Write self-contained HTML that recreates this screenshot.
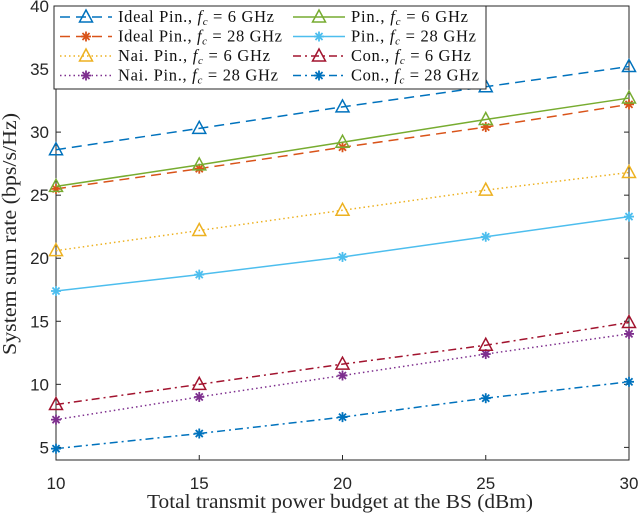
<!DOCTYPE html>
<html><head><meta charset="utf-8"><style>
body{margin:0;background:#fff}
svg{display:block}
text{font-family:"Liberation Sans",sans-serif}
.serif{font-family:"Liberation Serif",serif}
</style></head><body>
<svg id="chart" width="640" height="514" viewBox="0 0 640 514"></svg>
<script>
const xValues=[10,15,20,25,30];
const idealPin6=[28.6,30.3,32.0,33.6,35.2];
const idealPin28=[25.5,27.1,28.8,30.4,32.2];
const naiPin6=[20.6,22.2,23.8,25.4,26.8];
const naiPin28=[7.2,9.0,10.7,12.4,14.0];
const pin6=[25.7,27.4,29.2,31.0,32.7];
const pin28=[17.4,18.7,20.1,21.7,23.3];
const con6=[8.4,10.0,11.6,13.1,14.9];
const con28=[4.9,6.1,7.4,8.9,10.2];
const xTicks=[10,15,20,25,30];
const yTicks=[5,10,15,20,25,30,35,40];

const L=56,R=629,T=6,B=460,ymin=4,ymax=40;
const sx=v=>L+(v-10)/20*(R-L);
const sy=v=>B-(v-ymin)/(ymax-ymin)*(B-T);
const NS="http://www.w3.org/2000/svg";
const svg=document.getElementById('chart');
function mk(t,a,p){const e=document.createElementNS(NS,t);for(const k in a)e.setAttribute(k,a[k]);(p||svg).appendChild(e);return e;}

const box=mk('rect',{x:L,y:T,width:R-L,height:B-T,fill:'none',stroke:'#262626','stroke-width':1});


xTicks.forEach(v=>{
  mk('line',{x1:sx(v),x2:sx(v),y1:B,y2:B-5,stroke:'#262626'});
  mk('line',{x1:sx(v),x2:sx(v),y1:T,y2:T+5,stroke:'#262626'});
  const t=mk('text',{x:sx(v),y:B+29,'text-anchor':'middle','font-size':17,fill:'#262626'});t.textContent=v;
  
  
});
yTicks.forEach(v=>{
  mk('line',{x1:L,x2:L+5,y1:sy(v),y2:sy(v),stroke:'#262626'});
  mk('line',{x1:R,x2:R-5,y1:sy(v),y2:sy(v),stroke:'#262626'});
  const t=mk('text',{x:L-7,y:sy(v)+6,'text-anchor':'end','font-size':17,fill:'#262626'});t.textContent=v;
  
  
});
const xt=mk('text',{x:147,y:508,'font-size':19.5,class:'serif',fill:'#262626',textLength:386,lengthAdjust:'spacingAndGlyphs'});
xt.textContent='Total transmit power budget at the BS (dBm)';


const yt=mk('text',{x:0,y:0,'font-size':19.5,class:'serif',fill:'#262626',textLength:242,lengthAdjust:'spacingAndGlyphs',transform:`translate(16,355) rotate(-90)`});
yt.textContent='System sum rate (bps/s/Hz)';



function marker(g,type,x,y,c){
  if(type==='tri'){mk('polygon',{points:`${x},${y-7} ${x-6.5},${y+5} ${x+6.5},${y+5}`,fill:'none',stroke:c,'stroke-width':1.5},g);}
  else{for(let a=0;a<4;a++){const an=a*Math.PI/4;mk('line',{x1:x-5*Math.cos(an),y1:y-5*Math.sin(an),x2:x+5*Math.cos(an),y2:y+5*Math.sin(an),stroke:c,'stroke-width':1.8},g);}}
}
const series=[
 {d:idealPin6,c:'#0072BD',dash:'10,6',m:'tri',name:'series-ideal-pin-6ghz',label:'Ideal Pin., ',f:'6',w:156},
 {d:idealPin28,c:'#D95319',dash:'10,6',m:'star',name:'series-ideal-pin-28ghz',label:'Ideal Pin., ',f:'28',w:164},
 {d:naiPin6,c:'#EDB120',dash:'1.5,3',m:'tri',name:'series-nai-pin-6ghz',label:'Nai. Pin., ',f:'6',w:152},
 {d:naiPin28,c:'#7E2F8E',dash:'1.5,3',m:'star',name:'series-nai-pin-28ghz',label:'Nai. Pin., ',f:'28',w:160},
 {d:pin6,c:'#77AC30',dash:'',m:'tri',name:'series-pin-6ghz',label:'Pin., ',f:'6',w:117},
 {d:pin28,c:'#4DBEEE',dash:'',m:'star',name:'series-pin-28ghz',label:'Pin., ',f:'28',w:125},
 {d:con6,c:'#A2142F',dash:'8,4,2,4',m:'tri',name:'series-con-6ghz',label:'Con., ',f:'6',w:120},
 {d:con28,c:'#0072BD',dash:'8,4,2,4',m:'star',name:'series-con-28ghz',label:'Con., ',f:'28',w:128}
];
series.forEach(s=>{
  const g=mk('g',{});
  
  
  mk('polyline',{points:s.d.map((v,i)=>sx(xValues[i])+','+sy(v)).join(' '),fill:'none',stroke:s.c,'stroke-width':1.5,'stroke-dasharray':s.dash},g);
  s.d.forEach((v,i)=>marker(g,s.m,sx(xValues[i]),sy(v),s.c));
});
const lg=mk('g',{});


mk('rect',{x:54,y:6,width:432,height:83,fill:'#fff',stroke:'#262626','stroke-width':1},lg);
series.forEach((s,i)=>{
  const col=i<4?0:1,row=i%4;
  const x0=col?293:60,y=17+row*19.5;
  const e=mk('g',{},lg);
  
  
  mk('line',{x1:x0,x2:x0+52,y1:y,y2:y,stroke:s.c,'stroke-width':1.5,'stroke-dasharray':s.dash},e);
  marker(e,s.m,x0+26,y,s.c);
  const t=mk('text',{x:x0+58,y:y+5,'font-size':16.5,class:'serif',fill:'#111',textLength:s.w,lengthAdjust:'spacing'},e);
  t.innerHTML=s.label+'<tspan font-style="italic">f</tspan><tspan font-size="11" dy="3" font-style="italic">c</tspan><tspan dy="-3"> = '+s.f+' GHz</tspan>';
});
</script>
</body></html>
